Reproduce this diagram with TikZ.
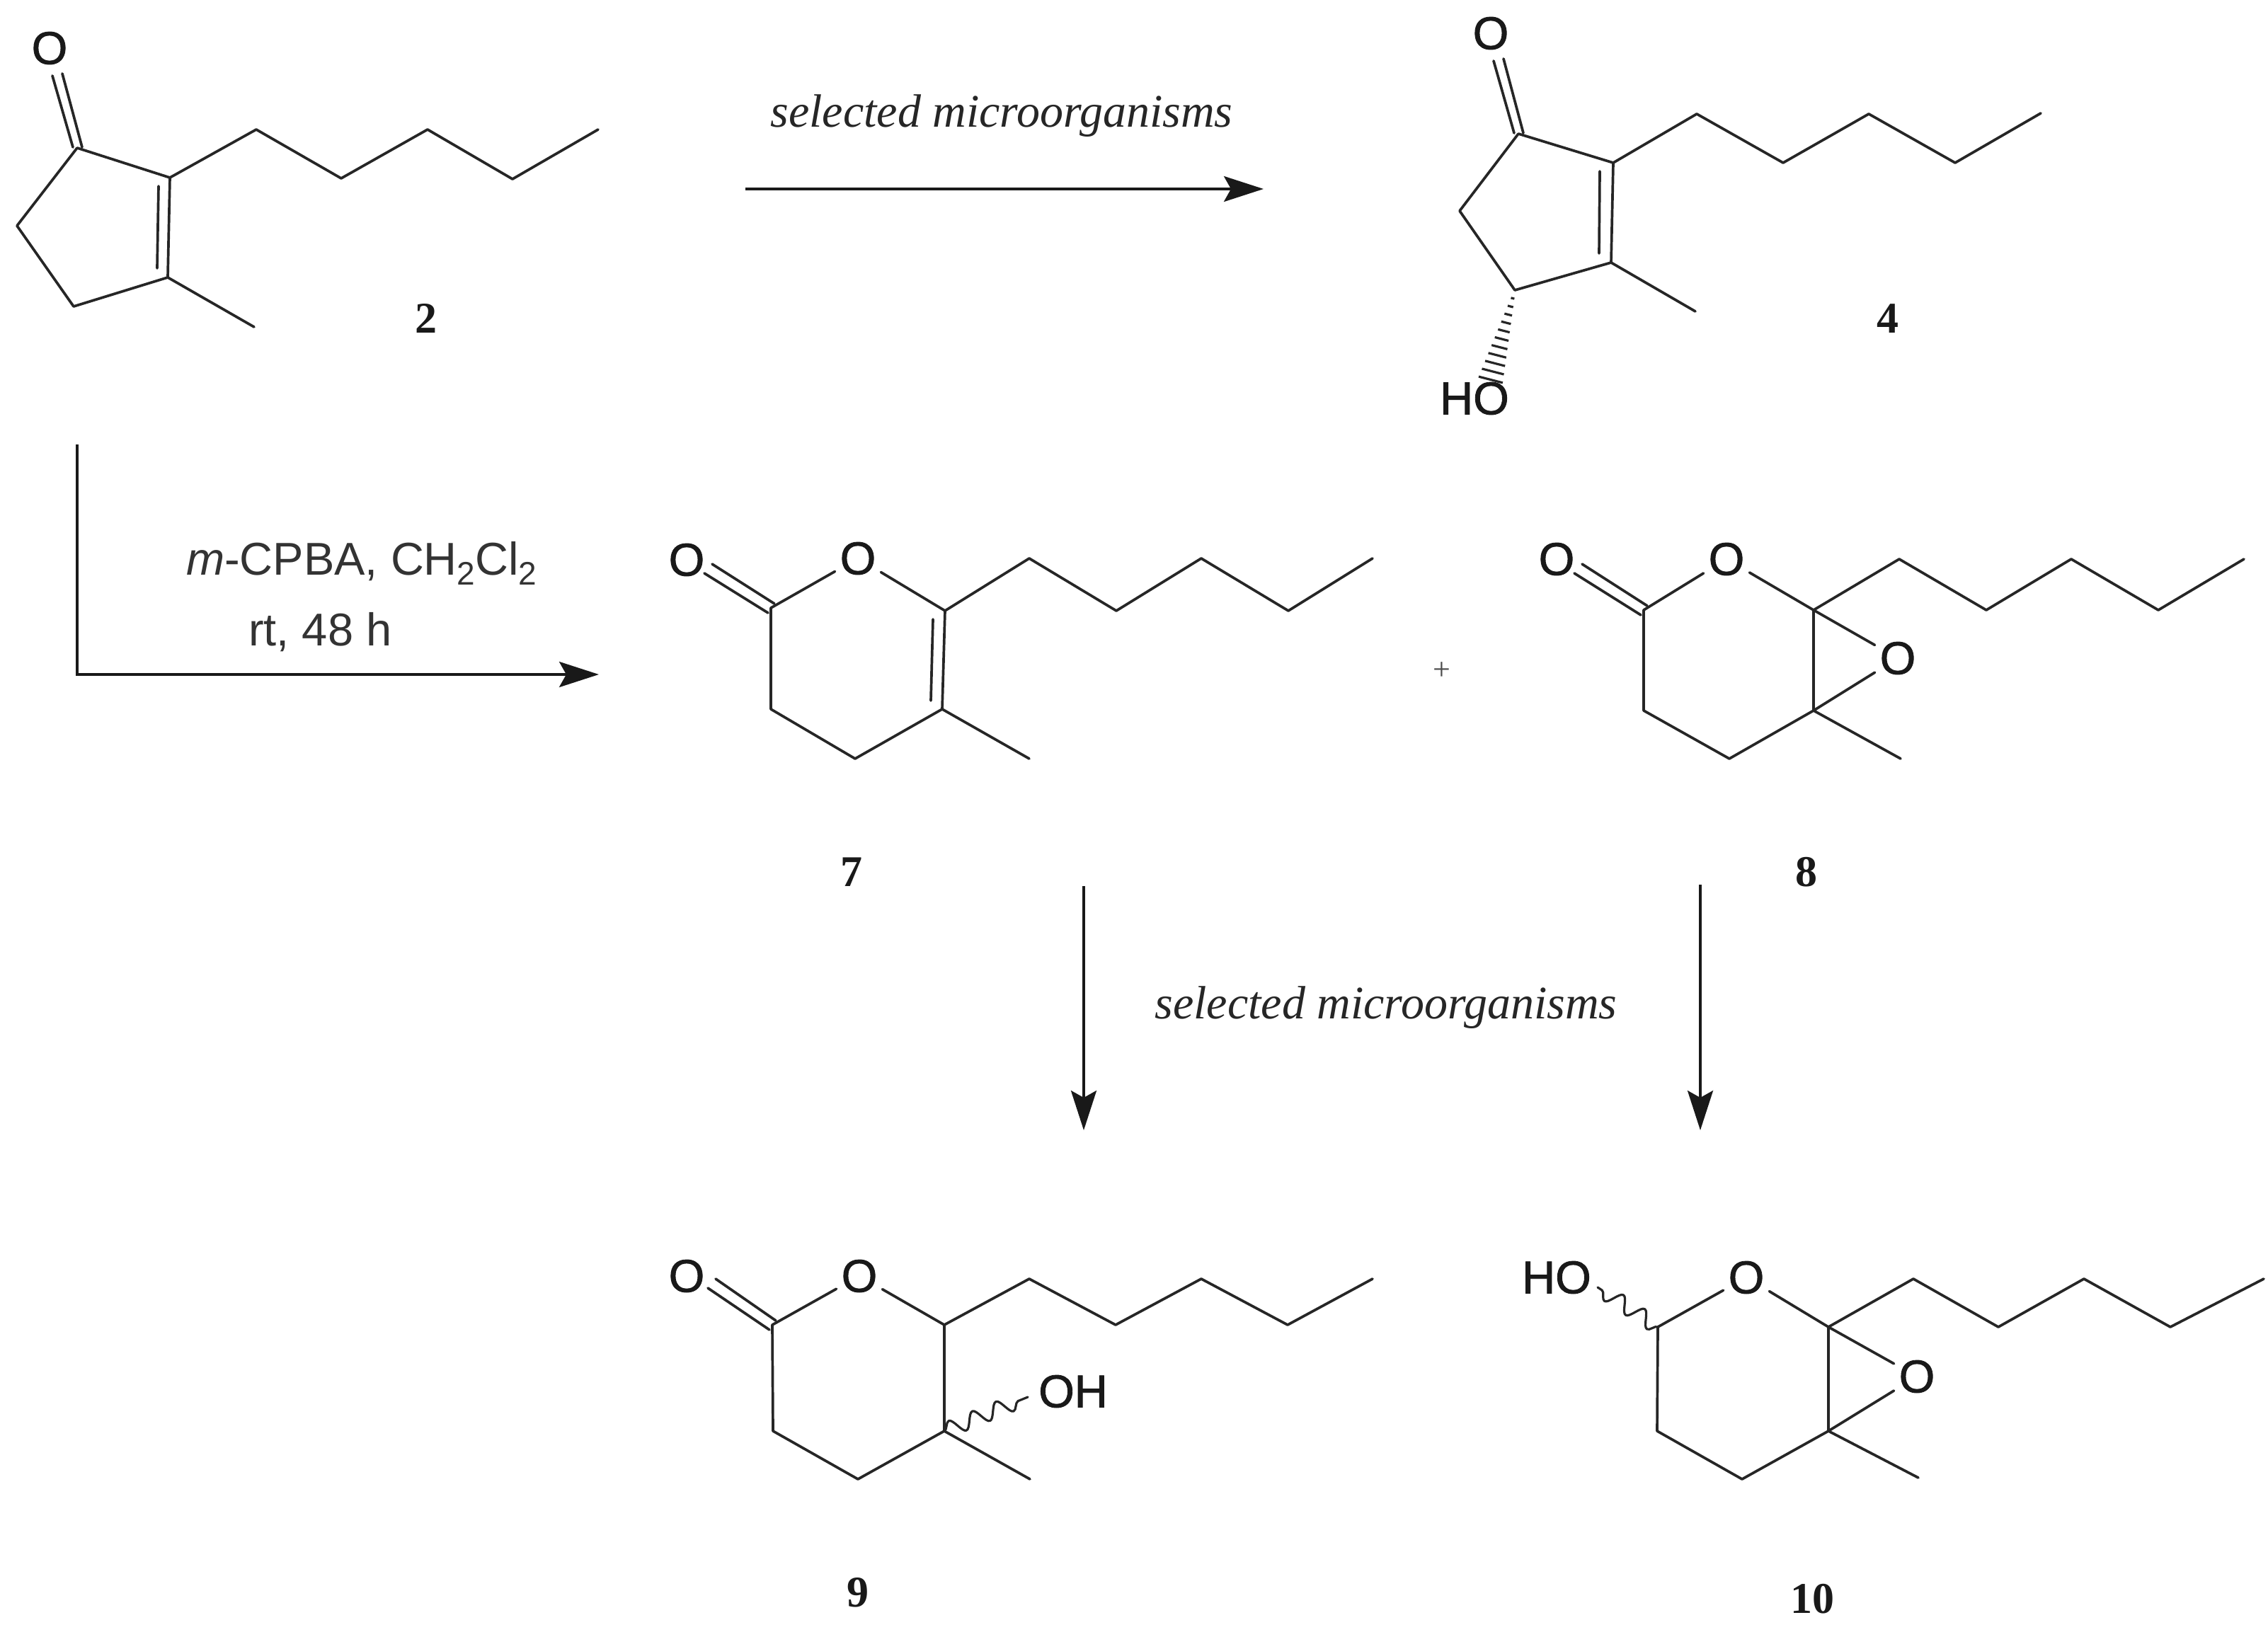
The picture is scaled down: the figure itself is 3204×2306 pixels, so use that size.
\documentclass[tikz,border=0pt]{standalone}
\usepackage{fontspec}
\setmainfont{Liberation Sans}
\newfontfamily\serifF{Liberation Serif}
\newfontfamily\atomF[FakeBold=1.3]{Liberation Sans}
\usetikzlibrary{arrows.meta,decorations.pathmorphing}
\tikzset{
  bond/.style={line width=3.7pt,color=black!85,line cap=round,line join=round},
  wavy/.style={bond,line width=3.2pt,decorate,decoration={snake,segment length=36pt,amplitude=11pt}},
  rxn/.style={line width=3.6pt,color=black!90,-{Stealth[length=56pt,width=36pt,inset=10pt]}},
  atom/.style={font=\fontsize{65}{70}\selectfont\atomF,inner sep=7pt,text=black!90},
  cmpd/.style={font=\fontsize{62}{66}\selectfont\serifF\bfseries,inner sep=0pt,text=black!90},
  cond/.style={font=\fontsize{65}{70}\selectfont,inner sep=0pt,text=black!80},
  micro/.style={font=\fontsize{66}{70}\selectfont\serifF\itshape,inner sep=0pt,text=black!85},
  plusn/.style={font=\fontsize{44}{48}\selectfont\serifF,inner sep=0pt,text=black!70}
}
\newcommand{\subtwo}{\raisebox{-0.22em}{\fontsize{46}{46}\selectfont 2}}
\begin{document}
\begin{tikzpicture}[x=1pt,y=-1pt]
\useasboundingbox (0,0) rectangle (3204,2306);
% ---------- compound 2
\coordinate (a1) at (109,209); \coordinate (a2) at (240,251); \coordinate (a3) at (237,392);
\coordinate (a4) at (104,433); \coordinate (a5) at (24,319);
\coordinate (a6) at (362,183); \coordinate (a7) at (482,252); \coordinate (a8) at (604,183);
\coordinate (a9) at (724,253); \coordinate (a10) at (845,183); \coordinate (a11) at (359,462);
\coordinate (a2i) at (224,263); \coordinate (a3i) at (222,379);
\coordinate (a1p) at (103,208); \coordinate (a1q) at (116,208);
\coordinate (aop) at (74,107); \coordinate (aoq) at (88,104);
\node[atom] (ao) at (70,68) {O};
\node[cmpd] (l2) at (602,450) {2};
\draw[bond] (a1)--(a2)--(a3)--(a4)--(a5)--(a1) (a2)--(a6)--(a7)--(a8)--(a9)--(a10) (a3)--(a11);
\draw[bond] (a2i)--(a3i) (a1p)--(aop) (a1q)--(aoq);
% ---------- compound 4
\coordinate (b1) at (2145,189); \coordinate (b2) at (2279,230); \coordinate (b3) at (2276,371);
\coordinate (b4) at (2140,410); \coordinate (b5) at (2062,298);
\coordinate (b6) at (2397,161); \coordinate (b7) at (2519,230); \coordinate (b8) at (2640,161);
\coordinate (b9) at (2762,230); \coordinate (b10) at (2883,160); \coordinate (b11) at (2395,440);
\coordinate (b2i) at (2260,242); \coordinate (b3i) at (2259,358);
\coordinate (b1p) at (2139,188); \coordinate (b1q) at (2152,188);
\coordinate (bop) at (2110,86); \coordinate (boq) at (2124,83);
\node[atom] (bo) at (2106,47) {O};
\node[atom] (boh) at (2083,563) {HO};
\node[cmpd] (l4) at (2667,450) {4};
\draw[bond] (b1)--(b2)--(b3)--(b4)--(b5)--(b1) (b2)--(b6)--(b7)--(b8)--(b9)--(b10) (b3)--(b11);
\draw[bond] (b2i)--(b3i) (b1p)--(bop) (b1q)--(boq);
\foreach \t in {1,...,11}{
  \draw[line width=3.2pt,color=black!85]
   ({2140-3.1*\t-(1.5*\t+1)*0.97},{410+11.5*\t-(1.5*\t+1)*0.25}) --
   ({2140-3.1*\t+(1.5*\t+1)*0.97},{410+11.5*\t+(1.5*\t+1)*0.25});
}
% ---------- compound 7
\coordinate (c1) at (1089,859); \coordinate (c3) at (1335,863); \coordinate (c4) at (1331,1002);
\coordinate (c5) at (1208,1072); \coordinate (c6) at (1089,1002);
\coordinate (c7) at (1454,789); \coordinate (c8) at (1577,863); \coordinate (c9) at (1697,789);
\coordinate (c10) at (1820,863); \coordinate (c11) at (1939,789); \coordinate (c12) at (1454,1072);
\coordinate (c3i) at (1318,875); \coordinate (c4i) at (1315,990);
\coordinate (c1p) at (1085,866); \coordinate (c1q) at (1094,853);
\coordinate (cop) at (995,810); \coordinate (coq) at (1006,797);
\node[atom] (co) at (970,791) {O};
\node[atom] (cr) at (1212,789) {O};
\node[cmpd] (l7) at (1203,1232) {7};
\draw[bond] (cr)--(c1)--(c6)--(c5)--(c4)--(c3)--(cr) (c3)--(c7)--(c8)--(c9)--(c10)--(c11) (c4)--(c12);
\draw[bond] (c3i)--(c4i) (c1p)--(cop) (c1q)--(coq);
% ---------- compound 8
\coordinate (d1) at (2322,862); \coordinate (d3) at (2562,862); \coordinate (d4) at (2562,1004);
\coordinate (d5) at (2443,1072); \coordinate (d6) at (2322,1004);
\coordinate (d7) at (2683,790); \coordinate (d8) at (2806,862); \coordinate (d9) at (2926,790);
\coordinate (d10) at (3049,862); \coordinate (d11) at (3170,790); \coordinate (d12) at (2685,1072);
\coordinate (d1p) at (2318,869); \coordinate (d1q) at (2327,856);
\coordinate (dop) at (2224,810); \coordinate (doq) at (2235,797);
\node[atom] (do) at (2199,790) {O};
\node[atom] (dr) at (2439,790) {O};
\node[atom] (de) at (2681,930) {O};
\node[cmpd] (l8) at (2552,1232) {8};
\draw[bond] (dr)--(d1)--(d6)--(d5)--(d4)--(d3)--(dr) (d3)--(d7)--(d8)--(d9)--(d10)--(d11) (d4)--(d12) (d3)--(de)--(d4);
\draw[bond] (d1p)--(dop) (d1q)--(doq);
\node[plusn] (plus) at (2037,948) {+};
% ---------- compound 9
\coordinate (e1) at (1091,1872); \coordinate (e3) at (1334,1872); \coordinate (e4) at (1334,2022);
\coordinate (e5) at (1212,2090); \coordinate (e6) at (1092,2022);
\coordinate (e7) at (1454,1807); \coordinate (e8) at (1576,1872); \coordinate (e9) at (1697,1807);
\coordinate (e10) at (1819,1872); \coordinate (e11) at (1939,1807); \coordinate (e12) at (1455,2090);
\coordinate (e1p) at (1087,1879); \coordinate (e1q) at (1096,1866);
\coordinate (eop) at (1000,1820); \coordinate (eoq) at (1011,1807);
\coordinate (ew) at (1452,1974);
\node[atom] (eo) at (970,1803) {O};
\node[atom] (er) at (1214,1803) {O};
\node[atom] (eh) at (1516,1966) {OH};
\node[cmpd] (l9) at (1212,2250) {9};
\draw[bond] (er)--(e1)--(e6)--(e5)--(e4)--(e3)--(er) (e3)--(e7)--(e8)--(e9)--(e10)--(e11) (e4)--(e12);
\draw[bond] (e1p)--(eop) (e1q)--(eoq);
\draw[wavy] (e4)--(ew);
% ---------- compound 10
\coordinate (f1) at (2342,1875); \coordinate (f3) at (2583,1875); \coordinate (f4) at (2583,2022);
\coordinate (f5) at (2461,2090); \coordinate (f6) at (2341,2022);
\coordinate (f7) at (2703,1807); \coordinate (f8) at (2823,1875); \coordinate (f9) at (2944,1807);
\coordinate (f10) at (3066,1875); \coordinate (f11) at (3198,1807); \coordinate (f12) at (2710,2088);
\coordinate (fw) at (2257,1819);
\node[atom] (fr) at (2467,1805) {O};
\node[atom] (fe) at (2708,1945) {O};
\node[atom] (fh) at (2199,1805) {HO};
\node[cmpd] (l10) at (2560,2259) {10};
\draw[bond] (fr)--(f1)--(f6)--(f5)--(f4)--(f3)--(fr) (f3)--(f7)--(f8)--(f9)--(f10)--(f11) (f4)--(f12) (f3)--(fe)--(f4);
\draw[wavy] (f1)--(fw);
% ---------- reactions
\coordinate (r1s) at (1053,267); \coordinate (r1e) at (1785,267);
\coordinate (r2s) at (109,628); \coordinate (r2m) at (109,953); \coordinate (r2e) at (846,953);
\coordinate (r3s) at (1531,1252); \coordinate (r3e) at (1531,1597);
\coordinate (r4s) at (2402,1250); \coordinate (r4e) at (2402,1597);
\draw[rxn] (r1s)--(r1e);
\draw[rxn] (r2s)--(r2m)--(r2e);
\draw[rxn] (r3s)--(r3e);
\draw[rxn] (r4s)--(r4e);
\node[micro] (m1) at (1415,164) {selected microorganisms};
\node[micro] (m2) at (1958,1424) {selected microorganisms};
\node[cond,anchor=base west] (c1t) at (263,812) {\textit{m}-CPBA, CH\subtwo Cl\subtwo};
\node[cond,anchor=base west] (c2t) at (351,912) {rt, 48 h};
\end{tikzpicture}
\end{document}
